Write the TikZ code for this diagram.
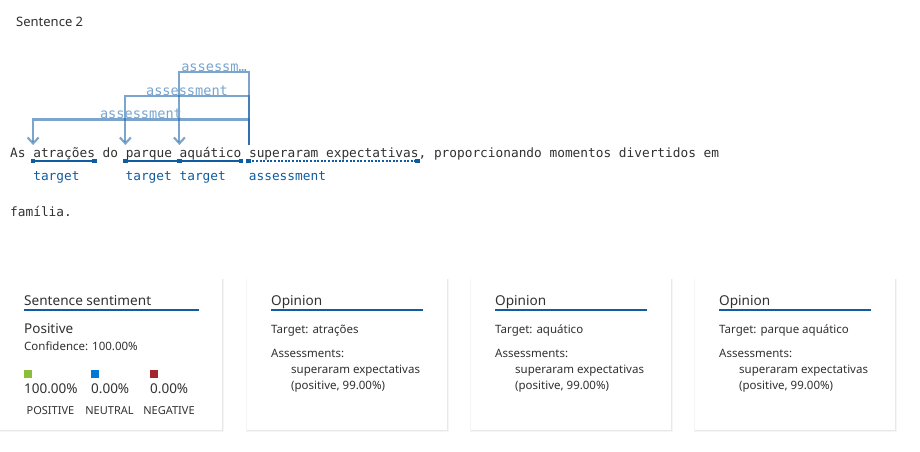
\documentclass[tikz,border=0pt]{standalone}
\usepackage{fontspec}
\setmainfont{Noto Sans}
\newfontfamily\mono{DejaVu Sans Mono}
\usetikzlibrary{arrows.meta}
\definecolor{txt}{RGB}{50,49,48}
\definecolor{dblue}{RGB}{16,92,160}
\definecolor{arcblue}{RGB}{31,100,170}
\definecolor{lblue}{RGB}{120,165,208}
\definecolor{pgreen}{RGB}{140,190,60}
\definecolor{nblue}{RGB}{0,120,212}
\definecolor{nred}{RGB}{164,38,44}
\tikzset{
  mtext/.style={inner sep=0pt, anchor=base west, text=txt, font=\mono\fontsize{12.8}{15}\selectfont},
  tlabel/.style={inner sep=0pt, anchor=base west, text=dblue, font=\mono\fontsize{12.8}{15}\selectfont},
  alabel/.style={inner sep=0pt, anchor=base, text=lblue, font=\mono\fontsize{13.6}{15}\selectfont},
  arcline/.style={draw=arcblue, draw opacity=0.58, line width=2.1pt, -{Straight Barb[length=6pt,width=11pt]}},
  uline/.style={draw=dblue, line width=2pt},
  dline/.style={draw=dblue, line width=2pt, dash pattern=on 2pt off 1.6pt},
  endsq/.style={fill=dblue, minimum size=4.5pt, inner sep=0pt, draw=none},
  shadowbox/.style={fill=black!9, draw=none},
  head/.style={inner sep=0pt, anchor=base west, text=txt, font=\fontsize{13.6}{16}\selectfont},
  body/.style={inner sep=0pt, anchor=base west, text=txt, font=\fontsize{11.5}{14}\selectfont},
  big/.style={inner sep=0pt, anchor=base west, text=txt, font=\fontsize{13.5}{16}\selectfont},
  small/.style={inner sep=0pt, anchor=base, text=txt, font=\fontsize{11}{13}\selectfont},
  hrule/.style={draw=dblue, line width=2pt},
  swatch/.style={minimum size=8pt, inner sep=0pt, anchor=north west, draw=none}
}
\begin{document}
\begin{tikzpicture}[x=1pt,y=-1pt]
\useasboundingbox (0,0) rectangle (920,451);
\fill[white] (0,0) rectangle (920,451);
% title
\node[inner sep=0pt, anchor=base west, text=txt, font=\fontsize{13}{15}\selectfont] (title) at (16,26) {Sentence 2};
% sentence
\node[mtext] (line1) at (10,157) {As atrações do parque aquático superaram expectativas, proporcionando momentos divertidos em};
\node[mtext] (line2) at (10,216) {família.};
% anchor coordinates (char width 7.696)
\coordinate (t1s) at (33.1,161);
\coordinate (t1e) at (94.7,161);
\coordinate (t2s) at (125.4,161);
\coordinate (t2e) at (179.4,161);
\coordinate (t3s) at (179.4,161);
\coordinate (t3e) at (241.0,161);
\coordinate (as) at (248.7,161);
\coordinate (ae) at (417.3,161);
% underlines
\draw[uline] (t1s) -- (t1e);
\draw[uline] (t2s) -- (t2e);
\draw[uline] (t3s) -- (t3e);
\draw[dline] (as) -- (ae);
\foreach \p in {t1s,t1e,t2s,t2e,t3e,as,ae} \node[endsq] at (\p) {};
% labels
\node[tlabel] (lab1) at (33.1,180) {target};
\node[tlabel] (lab2) at (125.4,180) {target};
\node[tlabel] (lab3) at (179.4,180) {target};
\node[tlabel] (lab4) at (248.7,180) {assessment};
% arc endpoints
\coordinate (src) at (248.7,145);
\coordinate (d1) at (33.1,145);
\coordinate (d2) at (125.4,145);
\coordinate (d3) at (179.4,145);
% arcs
\draw[arcline] (src) -- (248.7,119.5) -- (33.1,119.5) -- (d1);
\draw[arcline] (src) -- (248.7,96) -- (125.4,96) -- (d2);
\draw[arcline] (src) -- (248.7,72) -- (179.4,72) -- (d3);
\node[alabel] (al1) at (141,118.5) {assessment};
\node[alabel] (al2) at (187,95) {assessment};
\node[alabel] (al3) at (214,71) {assessm…};
% cards
\foreach \x/\w in {0/222,247/200,471/200,695/200}{
  \fill[black!4] (\x-1,279) rectangle (\x+\w+2,432);
  \fill[shadowbox] (\x,279) rectangle (\x+\w+1,431);
  \fill[white] (\x,278) rectangle (\x+\w,430);
}
% card 1
\node[head] (h1) at (24,305) {Sentence sentiment};
\draw[hrule] (24,310) -- (199,310);
\node[big] (pos) at (24,333) {Positive};
\node[body] (conf) at (24,350) {Confidence: 100.00\%};
\node[swatch, fill=pgreen] (sg) at (24,370) {};
\node[swatch, fill=nblue] (sb) at (91,370) {};
\node[swatch, fill=nred] (sr) at (150,370) {};
\node[big] (vg) at (24,393) {100.00\%};
\node[big] (vb) at (91,393) {0.00\%};
\node[big] (vr) at (150,393) {0.00\%};
\node[small] (lg) at (50.5,414) {POSITIVE};
\node[small] (lb) at (109.5,414) {NEUTRAL};
\node[small] (lr) at (169,414) {NEGATIVE};
% opinion cards
\foreach \x/\t/\n in {271/atrações/a,495/aquático/b,719/parque aquático/c}{
  \node[head] (op\n) at (\x,305) {Opinion};
  \draw[hrule] (\x,310) -- (\x+152,310);
  \node[body] (tg\n) at (\x,333) {Target: \t};
  \node[body] (as\n) at (\x,357) {Assessments:};
  \node[body] (ex\n) at (\x+20,373) {superaram expectativas};
  \node[body] (pc\n) at (\x+20,389) {(positive, 99.00\%)};
}
\end{tikzpicture}
\end{document}
